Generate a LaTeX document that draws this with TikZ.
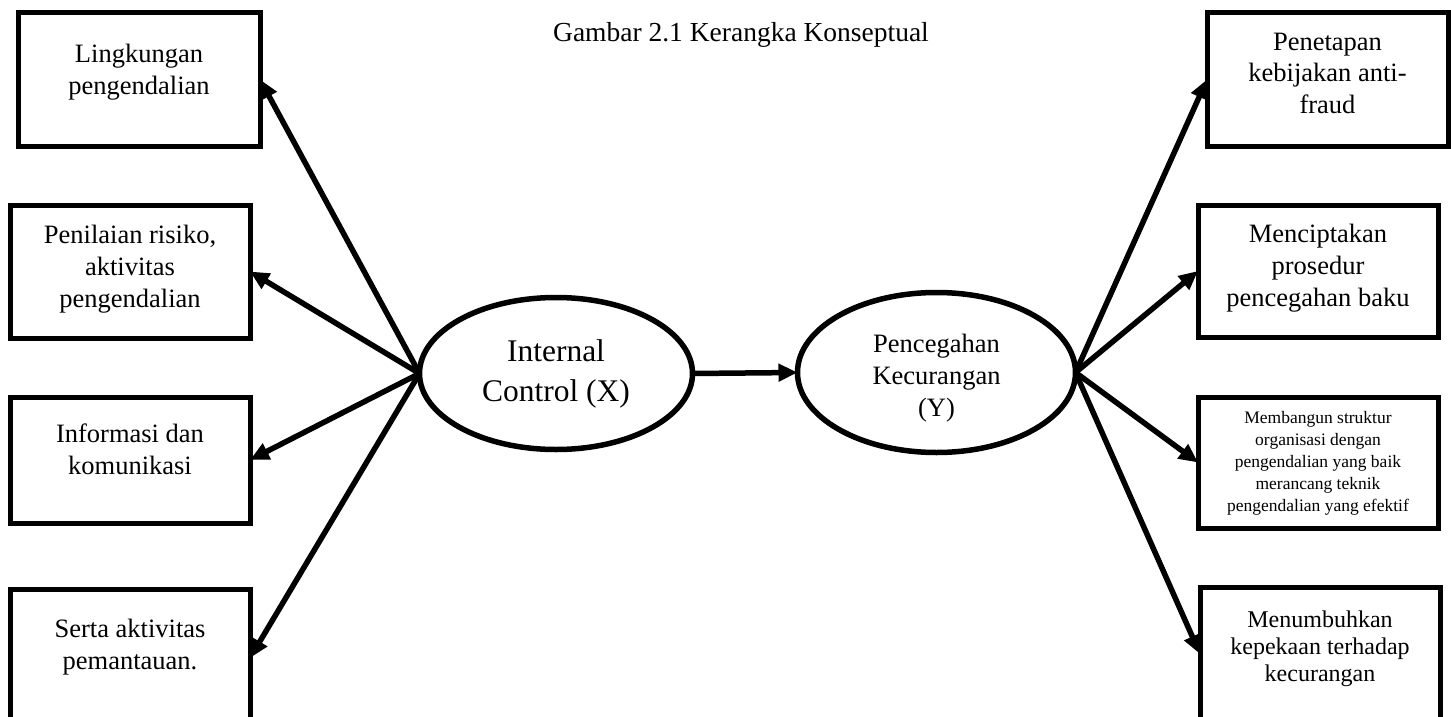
\documentclass[tikz,border=0pt]{standalone}
\usepackage{fontspec}
\setmainfont{Liberation Serif}
\usetikzlibrary{arrows.meta,shapes.geometric}

\tikzset{
    kotak/.style={draw,rectangle,line width=5pt,inner sep=0pt,outer sep=0pt},
    elips/.style={draw,ellipse,line width=5.5pt,inner sep=0pt,outer sep=0pt},
    teks/.style={anchor=north,inner sep=0pt,align=center,font=\fontsize{26.5}{32}\selectfont},
    panah/.style={line width=5.5pt,-{Triangle[length=19pt,width=17pt]}}
}

\begin{document}
\begin{tikzpicture}[x=1pt,y=-1pt]

\useasboundingbox (0,0) rectangle (1451,717);

\node at (741,42) [anchor=base,inner sep=0pt,font=\fontsize{27.5}{33}\selectfont] (nJudul) {Gambar 2.1 Kerangka Konseptual};

\node[elips,minimum width=273,minimum height=152] (nX) at (556,373.5) {};
\node[elips,minimum width=278,minimum height=160] (nY) at (936.5,372.5) {};
\node[align=center,inner sep=0pt,font=\fontsize{31.5}{40}\selectfont] (tX) at (nX.center) {Internal\\Control (X)};
\node[align=center,inner sep=0pt,font=\fontsize{26.5}{32}\selectfont] (tY) at ([yshift=-6pt]nY.center) {Pencegahan\\Kecurangan\\(Y)};

\foreach \n/\cx/\cy/\w/\h in
{nL1/139/79.5/242/133,
    nL2/130/271.5/240/133,
    nL3/130/460/240/126,
    nL4/130/658/240/138,
    nR1/1327.5/79.5/241/133,
    nR2/1318/271/240/132,
    nR3/1318/462.5/240/131,
    nR4/1320/654/240/134
}
{
    \node[kotak,minimum width=\w,minimum height=\h] (\n) at (\cx,\cy) {};
};

\node[teks] (tL1) at ([yshift=-30.9pt]nL1.north) {Lingkungan\\pengendalian};
\node[teks] (tL2) at ([yshift=-19.9pt]nL2.north) {Penilaian risiko,\\aktivitas\\pengendalian};
\node[teks] (tL3) at ([yshift=-26.9pt]nL3.north) {Informasi dan\\komunikasi};
\node[teks] (tL4) at ([yshift=-29.9pt]nL4.north) {Serta aktivitas\\pemantauan.};
\node[teks,font=\fontsize{26.5}{31.5}\selectfont] (tR1) at ([yshift=-19.5pt]nR1.north) {Penetapan\\kebijakan anti-\\fraud};
\node[teks] (tR2) at ([yshift=-18.9pt]nR2.north) {Menciptakan\\prosedur\\pencegahan baku};
\node[teks,font=\fontsize{17.5}{22}\selectfont] (tR3) at ([yshift=-13.7pt]nR3.north) {Membangun struktur\\organisasi dengan\\pengendalian yang baik\\merancang teknik\\pengendalian yang efektif};
\node[teks,font=\fontsize{24}{27}\selectfont] (tR4) at ([yshift=-23.6pt]nR4.north) {Menumbuhkan\\kepekaan terhadap\\kecurangan};

\foreach \b in {nL1,nL2,nL3,nL4}
    \draw[panah] (nX.west) -- (\b.east);
\foreach \b in {nR1,nR2,nR3,nR4}
    \draw[panah] (nY.east) -- (\b.west);
\draw[panah] (nX.east) -- (nY.west);

\end{tikzpicture}
\end{document}
